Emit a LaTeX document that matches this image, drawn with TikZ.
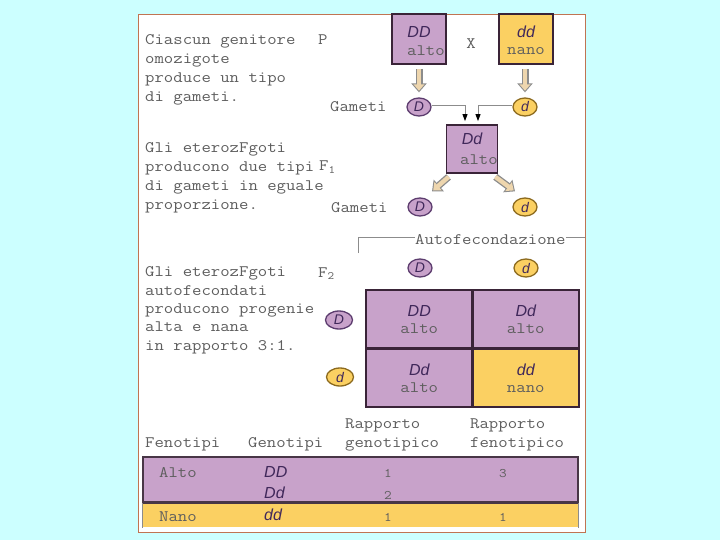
\documentclass[tikz,border=0pt]{standalone}
\usepackage{fontspec}
\newfontfamily\monofont[FakeStretch=1.14]{Latin Modern Mono}
\newfontfamily\genfont{Liberation Sans}
\usepackage{tikz}
\usetikzlibrary{arrows.meta,positioning,shapes.geometric,calc}

\definecolor{bgcyan}{HTML}{CCFFFF}
\definecolor{panelline}{HTML}{C07452}
\definecolor{lilac}{HTML}{C8A2CA}
\definecolor{gold}{HTML}{FBD062}
\definecolor{boxline}{HTML}{3A2438}
\definecolor{txtgray}{HTML}{5E5E5E}
\definecolor{gentxt}{HTML}{40285A}
\definecolor{arrtan}{HTML}{EED6AE}
\definecolor{arrline}{HTML}{8C8C8C}
\definecolor{gDline}{HTML}{5C3C6E}
\definecolor{gdline}{HTML}{8C6A1E}

\newcommand{\mt}{\monofont\fontsize{16}{19}\selectfont\color{txtgray}}
\newcommand{\gt}{\genfont\itshape\fontsize{16}{19}\selectfont}

\begin{document}
\begin{tikzpicture}[x=1pt, y=-1pt,
  txt/.style={font=\monofont\fontsize{16}{19}\selectfont, text=txtgray, inner sep=0pt, align=left},
  gen/.style={font=\gt, text=gentxt, inner sep=0pt},
  pbox/.style={draw=boxline, line width=1.8pt, minimum width=54pt, minimum height=50pt, inner sep=0pt},
  cell/.style={draw=boxline, line width=2.4pt, minimum width=106.5pt, minimum height=58.5pt, inner sep=0pt, align=center, text=gentxt},
  gamD/.style={ellipse, fill=lilac, draw=gDline, line width=1.3pt, minimum width=24pt, minimum height=18pt, inner sep=0pt, font=\genfont\itshape\fontsize{14}{14}\selectfont, text=gentxt},
  gamd/.style={gamD, fill=gold, draw=gdline},
  hollow/.style={draw=arrline, line width=7pt, -{Triangle[length=9pt,width=15pt]},
    postaction={draw=arrtan, line width=4.4pt, -{Triangle[length=6.4pt,width=10.6pt]}, shorten >=1.6pt}},
  gline/.style={draw=arrline, line width=0.9pt, -{Triangle[length=7pt,width=5pt,black]}},
  bracket/.style={draw=arrline, line width=0.9pt},
  band/.style={draw=boxline!80!gray, line width=1.3pt, minimum width=435pt, inner sep=0pt},
  num/.style={font=\monofont\fontsize{13}{15}\selectfont, text=txtgray, inner sep=0pt}
]
% background and panel
\fill[bgcyan] (0,0) rectangle (720,540);
\useasboundingbox (0,0) rectangle (720,540);
\node[draw=panelline, fill=white, line width=0.8pt, minimum width=447pt, minimum height=518pt, inner sep=0pt] (panel) at (361.5,273) {};

% left-hand texts (anchored at the baseline of the last line)
\node[txt, anchor=base west] (introP) at (145,102) {Ciascun genitore\\omozigote\\produce un tipo\\di gameti.};
\node[txt, anchor=base west] (labP) at (318,45) {P};
\node[txt, anchor=base west] (introF1) at (145,210) {Gli eterozFgoti\\producono due tipi\\di gameti in eguale\\proporzione.};
\node[txt, anchor=base west] (labF1) at (319,171) {F\textsubscript{1}};
\node[txt, anchor=base west, font=\monofont\fontsize{16}{18.3}\selectfont] (introF2) at (145,350) {Gli eterozFgoti\\autofecondati\\producono progenie\\alta e nana\\in rapporto 3:1.};
\node[txt, anchor=base west] (labF2) at (318,277) {F\textsubscript{2}};

% parents
\node[pbox, fill=lilac] (pDD) at (419,39) {};
\node[gen] (pDDg) at ($(pDD.center)+(0,-7)$) {DD};
\node[txt, anchor=west] (pDDt) at ($(pDD.center)+(-12,12)$) {alto};
\node[txt, anchor=base] (cross) at (471,49) {X};
\node[pbox, fill=gold] (pdd) at (526,39) {};
\node[gen] (pddg) at ($(pdd.center)+(0,-7)$) {dd};
\node[txt] (pddt) at ($(pdd.center)+(0,12)$) {nano};

% first gametes
\node[txt, anchor=base west] (gam1) at (330,112) {Gameti};
\node[gamD] (g1D) at (419,107) {D};
\node[gamd] (g1d) at (525,107) {d};
\draw[hollow] ([yshift=-4pt]pDD.south) -- ([yshift=5pt]g1D.north);
\draw[hollow] ([yshift=-4pt]pdd.south -| g1d) -- ([yshift=5pt]g1d.north);

% F1
\node[pbox, fill=lilac, minimum width=51pt, minimum height=48pt] (pDd) at (472,149) {};
\node[gen] (pDdg) at ($(pDd.center)+(0,-10)$) {Dd};
\node[txt, anchor=west] (pDdt) at ($(pDd.center)+(-12,11)$) {alto};
\draw[gline] ([yshift=2pt]g1D.east) -| ([xshift=-7pt,yshift=3pt]pDd.north);
\draw[gline] ([yshift=2pt]g1d.west) -| ([xshift=6pt,yshift=3pt]pDd.north);

% second gametes
\node[txt, anchor=base west] (gam2) at (331,212) {Gameti};
\node[gamD] (g2D) at (420,207) {D};
\node[gamd] (g2d) at (525,207) {d};
\draw[hollow] ([xshift=3pt,yshift=-3pt]pDd.south west) -- ([xshift=12pt,yshift=6pt]g2D.north);
\draw[hollow] ([xshift=-3pt,yshift=-3pt]pDd.south east) -- ([xshift=-10pt,yshift=6pt]g2d.north);

% self-fertilisation
\node[txt, anchor=base west] (auto) at (415,244) {Autofecondazione};
\coordinate (brk) at (358,253);
\coordinate (autoL) at ([yshift=2pt]auto.west);
\coordinate (autoR) at ([yshift=2pt]auto.east);
\draw[bracket] (brk) |- (autoL);
\draw[bracket] (autoR) -- (autoR -| panel.east);

% Punnett square
\node[gamD] (topD) at (420,268) {D};
\node[gamd] (topd) at (526,268) {d};
\node[gamD, minimum width=27pt] (sideD) at (339,320) {D};
\node[gamd, minimum width=27pt] (sided) at (340,377) {d};
\node[cell, fill=lilac] (c11) at (419.25,319.25) {\gt DD\\[5pt]\mt alto};
\node[cell, fill=lilac] (c12) at (525.75,319.25) {\gt Dd\\[5pt]\mt alto};
\node[cell, fill=lilac] (c21) at (419.25,377.75) {\gt Dd\\[5pt]\mt alto};
\node[cell, fill=gold] (c22) at (525.75,377.75) {\gt dd\\[5pt]\mt nano};

% summary table
\node[txt, anchor=base west] (hFen) at (145,447) {Fenotipi};
\node[txt, anchor=base west] (hGen) at (248,447) {Genotipi};
\node[txt, anchor=base west] (hRg) at (345,447) {Rapporto\\genotipico};
\node[txt, anchor=base west] (hRf) at (470,447) {Rapporto\\fenotipico};
\node[band, fill=lilac, minimum height=45pt] (rowA) at (360.5,479.5) {};
\node[band, draw=none, fill=gold, minimum height=23pt] (rowN) at (360.5,515.5) {};
\draw[boxline!80!gray, line width=1.3pt] (rowN.north west) -- (rowN.north east);
\draw[arrline, line width=0.6pt] (rowN.north west) -- (rowN.south west);
\draw[arrline, line width=0.6pt] (rowN.north east) -- (rowN.south east);
\node[txt, anchor=base west] (tAlto) at (159,477) {Alto};
\node[gen, anchor=base west] (tDD) at (264,477) {DD};
\node[gen, anchor=base west] (tDd) at (264,498) {Dd};
\node[num, anchor=base] (tA1) at (388,477) {1};
\node[num, anchor=base] (tA3) at (503,477) {3};
\node[num, anchor=base] (tA2) at (388,499) {2};
\node[txt, anchor=base west] (tNano) at (159,521) {Nano};
\node[gen, anchor=base west] (tdd) at (264,520) {dd};
\node[num, anchor=base] (tN1) at (388,521) {1};
\node[num, anchor=base] (tN2) at (503,521) {1};
\end{tikzpicture}
\end{document}
